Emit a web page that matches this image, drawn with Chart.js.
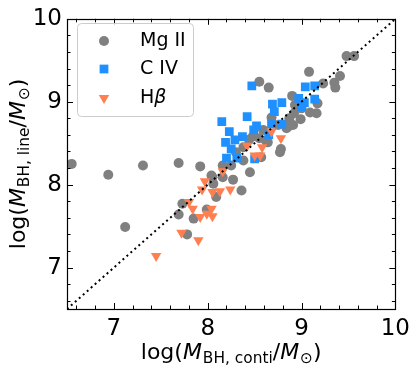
<!DOCTYPE html>
<html><head><meta charset="utf-8">
<script src="https://cdn.jsdelivr.net/npm/chart.js@4.4.1/dist/chart.umd.min.js"></script>
<style>html,body{margin:0;padding:0;background:#fff;}#wrap{width:416px;height:370px;}</style>
</head><body><div id="wrap"><canvas id="c" width="416" height="370"></canvas></div>
<script>
// ---- data ----
const seriesNames = ['Mg II', 'C IV', 'Hβ'];
const mgX = [6.55,6.94,7.31,7.69,7.92,7.12,7.73,7.69,7.85,7.78,7.99,8.05,8.16,8.25,8.09,8.06,8.27,8.36,8.45,8.38,8.57,8.77,8.78,8.30,8.44,8.55,8.62,8.64,8.48,8.59,8.75,8.84,8.86,8.91,8.68,8.87,8.99,8.92,8.93,9.00,9.09,9.16,9.17,8.90,9.23,9.36,9.35,9.41,9.08,9.48,9.56,8.55,8.65,8.04,8.16,8.38];
const mgY = [8.25,8.12,8.23,8.26,8.22,7.49,7.77,7.64,7.59,7.40,7.70,8.09,8.23,8.23,7.85,8.01,8.06,7.93,8.15,8.29,8.33,8.39,8.43,8.39,8.54,8.56,8.53,8.51,8.58,8.66,8.72,8.68,8.70,8.72,8.81,8.80,8.79,8.86,8.96,8.92,8.87,8.86,8.98,9.07,9.22,9.17,9.23,9.31,9.36,9.55,9.55,9.24,9.17,8.11,8.09,8.45];
const civX = [8.47,9.04,9.14,8.97,9.03,9.14,9.00,8.69,8.79,8.71,8.42,8.15,8.68,8.79,8.52,8.49,8.23,8.37,8.29,8.65,8.19,8.25,8.20,8.31,8.50];
const civY = [9.19,9.18,9.19,9.04,8.99,9.03,8.94,8.97,8.99,8.88,8.82,8.76,8.73,8.73,8.71,8.66,8.64,8.58,8.54,8.60,8.51,8.43,8.32,8.32,8.31];
const hbX = [8.68,8.78,8.42,8.58,8.50,8.56,8.16,7.97,7.94,8.05,8.13,8.24,7.80,7.84,7.92,7.99,8.05,8.04,7.72,7.90,7.45];
const hbY = [8.64,8.56,8.47,8.45,8.35,8.35,8.16,8.04,7.94,7.91,7.92,7.94,7.79,7.71,7.61,7.65,7.62,7.71,7.42,7.33,7.14];
const lineX = [6.5, 10];
const lineY = [6.5, 10];
const axisMin = 6.5, axisMax = 10;
const majorTicks = [7, 8, 9, 10];

const pts = (xs, ys) => xs.map((v, i) => ({x: v, y: ys[i]}));

// ---- plugins ----
const PLOT = {left: 67, right: 396, top: 14, bottom: 309};

const frameTicks = {
  id: 'frameTicks',
  afterDraw(chart) {
    const ctx = chart.ctx;
    const {left, right, top, bottom} = chart.chartArea;
    const xs = chart.scales.x, ys = chart.scales.y;
    ctx.save();
    ctx.strokeStyle = '#000';
    ctx.lineWidth = 1;
    ctx.beginPath();
    for (let i = 33; i <= 50; i++) {
      const v = i / 5;
      const len = (i % 5 === 0) ? 6 : 3.5;
      const px = Math.round(xs.getPixelForValue(v)) + 0.5;
      ctx.moveTo(px, bottom); ctx.lineTo(px, bottom - len);
      ctx.moveTo(px, top); ctx.lineTo(px, top + len);
      const py = Math.round(ys.getPixelForValue(v)) + 0.5;
      ctx.moveTo(left, py); ctx.lineTo(left + len, py);
      ctx.moveTo(right, py); ctx.lineTo(right - len, py);
    }
    ctx.stroke();
    ctx.lineWidth = 1.2;
    ctx.strokeRect(Math.round(left) + 0.5, Math.round(top) + 0.5, Math.round(right - left), Math.round(bottom - top));
    ctx.restore();
  }
};

const legendBox = {
  id: 'legendBox',
  afterDraw(chart) {
    const ctx = chart.ctx;
    const x0 = 77, y0 = 23, w = 116, h = 93, r = 4;
    ctx.save();
    ctx.beginPath();
    ctx.roundRect(x0 + 0.5, y0 + 0.5, w, h, r);
    ctx.fillStyle = 'rgba(255,255,255,0.8)';
    ctx.fill();
    ctx.strokeStyle = '#cccccc';
    ctx.lineWidth = 1;
    ctx.stroke();
    const ds = chart.data.datasets.filter(d => d.inLegend);
    ds.sort((a, b) => a.legendIndex - b.legendIndex);
    const rows = [41, 69, 98];
    ds.forEach((d, i) => {
      ctx.fillStyle = d.backgroundColor;
      ctx.strokeStyle = d.backgroundColor;
      Chart.helpers.drawPoint(ctx, {
        pointStyle: d.pointStyle, radius: d.pointRadius, rotation: d.rotation || 0,
        borderWidth: 0
      }, 104, rows[i]);
      ctx.fillStyle = '#000';
      ctx.textBaseline = 'middle';
      ctx.textAlign = 'left';
      if (d.label === 'Hβ') {
        ctx.font = '19px "DejaVu Sans"';
        ctx.fillText('H', 140, rows[i]);
        const wH = ctx.measureText('H').width;
        ctx.font = 'italic 19px "DejaVu Sans"';
        ctx.fillText('β', 140 + wH, rows[i]);
      } else {
        ctx.font = '19px "DejaVu Sans"';
        ctx.fillText(d.label, 140, rows[i]);
      }
    });
    ctx.restore();
  }
};

function richWidth(ctx, segs, size) {
  let w = 0;
  segs.forEach(s => {
    const fs = s.sub ? size * 0.7 : size;
    ctx.font = (s.it ? 'italic ' : '') + fs + 'px "DejaVu Sans"';
    w += ctx.measureText(s.t).width + (s.gap || 0);
  });
  return w;
}
function richDraw(ctx, segs, size, x, y) {
  let cx = x;
  segs.forEach(s => {
    const fs = s.sub ? size * 0.7 : size;
    ctx.font = (s.it ? 'italic ' : '') + fs + 'px "DejaVu Sans"';
    ctx.fillText(s.t, cx, y + (s.sub ? size * 0.2 : 0));
    cx += ctx.measureText(s.t).width + (s.gap || 0);
  });
}
const xTitleSegs = [{t:'log('},{t:'M',it:true,gap:1},{t:'BH, conti',sub:true},{t:'/'},{t:'M',it:true,gap:1},{t:'⊙',sub:true},{t:')'}];
const yTitleSegs = [{t:'log('},{t:'M',it:true,gap:1},{t:'BH, line',sub:true},{t:'/'},{t:'M',it:true,gap:1},{t:'⊙',sub:true},{t:')'}];

const axisTitles = {
  id: 'axisTitles',
  afterDraw(chart) {
    const ctx = chart.ctx;
    const {left, right, top, bottom} = chart.chartArea;
    const size = 22;
    ctx.save();
    ctx.fillStyle = '#000';
    ctx.textBaseline = 'alphabetic';
    ctx.textAlign = 'left';
    let w = richWidth(ctx, xTitleSegs, size);
    richDraw(ctx, xTitleSegs, size, (left + right) / 2 - w / 2, 359);
    w = richWidth(ctx, yTitleSegs, size);
    ctx.translate(25, (top + bottom) / 2);
    ctx.rotate(-Math.PI / 2);
    richDraw(ctx, yTitleSegs, size, -w / 2, 0);
    ctx.restore();
  }
};

const tickFont = {family: '"DejaVu Sans"', size: 23};

new Chart(document.getElementById('c'), {
  type: 'scatter',
  data: {
    datasets: [
      {label: seriesNames[0], data: pts(mgX, mgY), pointStyle: 'circle', pointRadius: 5,
       backgroundColor: '#808080', borderWidth: 0, order: 3, inLegend: true, legendIndex: 0},
      {label: seriesNames[1], data: pts(civX, civY), pointStyle: 'rect', pointRadius: 6.2,
       backgroundColor: '#1E90FF', borderWidth: 0, order: 2, inLegend: true, legendIndex: 1},
      {label: seriesNames[2], data: pts(hbX, hbY), pointStyle: 'triangle', pointRadius: 6, rotation: 180,
       backgroundColor: '#FF7F50', borderWidth: 0, order: 1, inLegend: true, legendIndex: 2},
      {type: 'line', label: '1:1', data: pts(lineX, lineY), borderColor: '#000', borderWidth: 2,
       borderDash: [2, 3.3], pointRadius: 0, fill: false, order: 0, showLine: true}
    ]
  },
  options: {
    responsive: false,
    animation: false,
    devicePixelRatio: 1,
    layout: {padding: {left: 0, right: 20, top: 14, bottom: 0}},
    plugins: {legend: {display: false}, tooltip: {enabled: false}},
    scales: {
      x: {
        type: 'linear', min: axisMin, max: axisMax,
        grid: {display: false, drawTicks: false}, border: {display: false},
        ticks: {font: tickFont, color: '#000', padding: 6, maxRotation: 0},
        afterBuildTicks: s => { s.ticks = majorTicks.map(v => ({value: v})); },
        afterFit: s => { s.height = 370 - PLOT.bottom; }
      },
      y: {
        type: 'linear', min: axisMin, max: axisMax,
        grid: {display: false, drawTicks: false}, border: {display: false},
        ticks: {font: tickFont, color: '#000', padding: 5},
        afterBuildTicks: s => { s.ticks = majorTicks.map(v => ({value: v})); },
        afterFit: s => { s.width = PLOT.left; }
      }
    }
  },
  plugins: [frameTicks, legendBox, axisTitles]
});
</script>
</body></html>
